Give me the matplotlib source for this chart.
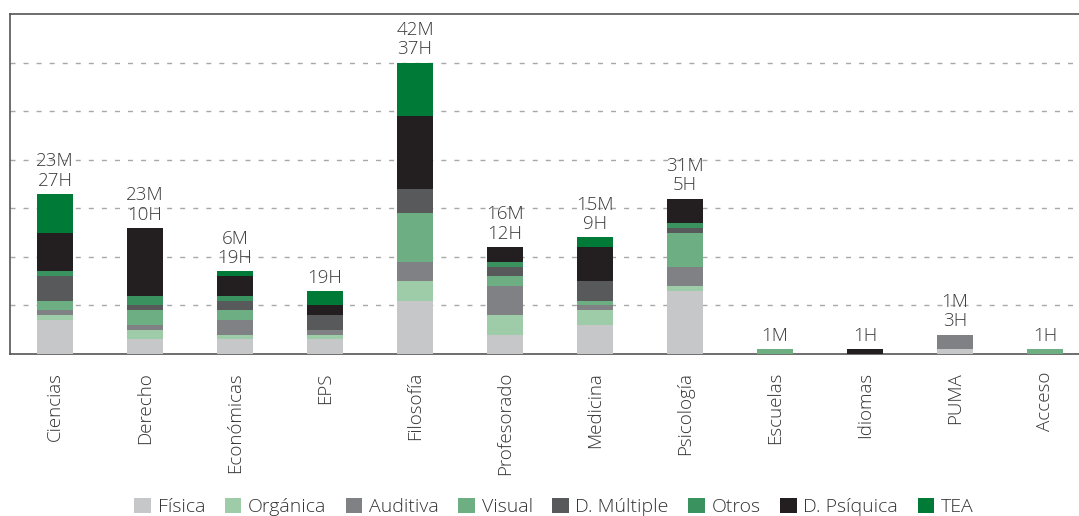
import matplotlib
matplotlib.use("Agg")
import matplotlib.pyplot as plt
import numpy as np

categories = ["Ciencias", "Derecho", "Económicas", "EPS", "Filosofía", "Profesorado",
              "Medicina", "Psicología", "Escuelas", "Idiomas", "PUMA", "Acceso"]
series_names = ["Física", "Orgánica", "Auditiva", "Visual", "D. Múltiple", "Otros",
                "D. Psíquica", "TEA"]
fisica    = [7, 3, 3, 3, 11, 4, 6, 13, 0, 0, 1, 0]
organica  = [1, 2, 1, 1, 4, 4, 3, 1, 0, 0, 0, 0]
auditiva  = [1, 1, 3, 1, 4, 6, 1, 4, 0, 0, 3, 0]
visual    = [2, 3, 2, 0, 10, 2, 1, 7, 1, 0, 0, 1]
multiple  = [5, 1, 2, 3, 5, 2, 4, 1, 0, 0, 0, 0]
otros     = [1, 2, 1, 0, 0, 1, 0, 1, 0, 0, 0, 0]
psiquica  = [8, 14, 4, 2, 15, 3, 7, 5, 0, 1, 0, 0]
tea       = [8, 0, 1, 3, 11, 0, 2, 0, 0, 0, 0, 0]
bar_labels = ["23M\n27H", "23M\n10H", "6M\n19H", "19H", "42M\n37H", "16M\n12H",
              "15M\n9H", "31M\n5H", "1M", "1H", "1M\n3H", "1H"]
colors = ["#c6c7c8", "#9ecba8", "#808184", "#6daf82", "#58595b", "#3a925e",
          "#231f20", "#007a37"]

series = [fisica, organica, auditiva, visual, multiple, otros, psiquica, tea]

plt.rcParams['font.family'] = ['Open Sans', 'DejaVu Sans']

fig = plt.figure(figsize=(10.79, 5.16), dpi=100)
W, H = 1079, 516
left, right = 10, 1090
top, bottom = 14, 354
ax = fig.add_axes([left / W, 1 - bottom / H, (right - left) / W, (bottom - top) / H])

x = np.arange(len(categories))
base = np.zeros(len(categories))
for vals, name, col in zip(series, series_names, colors):
    v = np.array(vals, dtype=float)
    ax.bar(x, v, width=0.4, bottom=base, color=col, label=name, zorder=3, linewidth=0)
    base += v

for xi, tot, lab in zip(x, base, bar_labels):
    ax.annotate(lab, (xi, tot), xytext=(0, 3), textcoords="offset points",
                ha="center", va="bottom", fontsize=13.5, color="#3a3a3a",
                fontweight="light", linespacing=1.12, zorder=4)

ax.set_xlim(-0.5, len(categories) - 0.5)
ax.set_ylim(0, 70)
ax.set_yticks([10, 20, 30, 40, 50, 60])
ax.set_yticklabels([])
ax.tick_params(axis="y", length=0)
ax.yaxis.grid(True, color="#a8a8a8", linestyle=(0, (3.6, 5.8)), linewidth=1.0, zorder=0)
ax.set_axisbelow(True)

ax.set_xticks(x)
ax.set_xticklabels(categories, rotation=90, fontsize=13.5, color="#333333", fontweight="light")
ax.tick_params(axis="x", length=0, pad=13)

for s in ["top", "left", "bottom"]:
    ax.spines[s].set_color("#555555")
    ax.spines[s].set_linewidth(1.2)
ax.spines["right"].set_visible(False)

handles, labels = ax.get_legend_handles_labels()
leg = fig.legend(handles, labels, loc="center", bbox_to_anchor=(554 / W, 1 - 507 / H),
                 ncol=8, frameon=False, fontsize=14, handlelength=0.85, handleheight=0.85,
                 handletextpad=0.35, columnspacing=1.0, borderaxespad=0, borderpad=0)
for t in leg.get_texts():
    t.set_color("#333333")
    t.set_fontweight("light")

fig.savefig("out.png", dpi=100)
